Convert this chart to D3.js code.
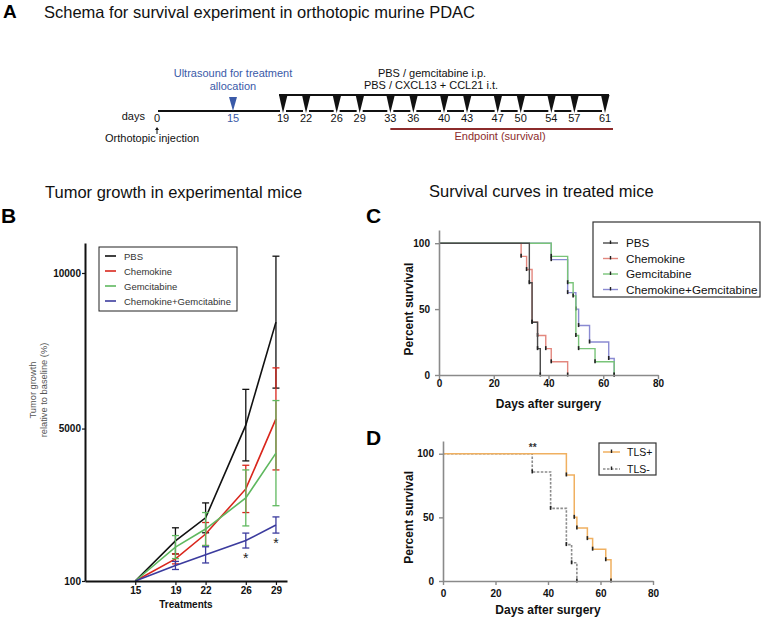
<!DOCTYPE html>
<html><head><meta charset="utf-8">
<script src="https://cdn.jsdelivr.net/npm/d3@7"></script>
<style>
body{margin:0;background:#fff}
svg{display:block}
text{font-family:"Liberation Sans",Arial,Helvetica,sans-serif}
</style>
</head><body>
<svg id="c" width="765" height="621"></svg>
<script>
// ---------------- data ----------------
const timelineDays = [0,15,19,22,26,29,33,36,40,43,47,50,54,57,61];
const treatmentDays = [19,22,26,29,33,36,40,43,47,50,54,57,61];
const allocationDay = 15;
const endpointStartDay = 33;

const growthDays = [15,19,22,26,29];
const growthNames = ["PBS","Chemokine","Gemcitabine","Chemokine+Gemcitabine"];
const pbsMean  = [100,1390,2130,5110,8420];
const pbsSem   = [0,420,480,1150,2120];
const chemMean = [100,810,1610,3060,5310];
const chemSem  = [0,160,370,760,1640];
const gemMean  = [100,1190,1770,2770,4210];
const gemSem   = [0,370,530,900,1690];
const combMean = [100,600,940,1400,1900];
const combSem  = [0,130,260,240,260];
const growthYTicks = [100,5000,10000];
const growthStarDays = [26,29];

const survNames = ["PBS","Chemokine","Gemcitabine","Chemokine+Gemcitabine"];
const survPBS  = [[0,100],[33,70],[34,40],[36,20],[37,0]];
const survChem = [[0,100],[30,90],[32,80],[34,40],[36,30],[39,20],[41,10],[47,0]];
const survGem  = [[0,100],[41,90],[47,70],[49,60],[50,30],[51,20],[57,10],[64,0]];
const survComb = [[0,100],[41,87.5],[47,62.5],[50,50],[51,37.5],[55,25],[62,12.5],[64,0]];
const tlsNames = ["TLS+","TLS-"];
const survTLSpos = [[0,100],[47,83.3],[50,50],[51,41.7],[55,33.3],[57,25],[62,16.7],[64,0]];
const survTLSneg = [[0,100],[34,85.7],[41,57.1],[47,28.6],[49,14.3],[51,0]];
const survXTicks = [0,20,40,60,80];
const survYTicks = [0,50,100];
const tlsStarDay = 34;

// ---------------- drawing ----------------
const svg = d3.select("#c");
svg.append("rect").attr("width",765).attr("height",621).attr("fill","#fff");

function T(g,x,y,s,o={}){
  const t=g.append("text").attr("x",x).attr("y",y).text(s)
   .attr("font-size",o.size||11).attr("fill",o.fill||"#111")
   .attr("font-weight",o.bold?"bold":"normal")
   .attr("text-anchor",o.anchor||"start");
  if(o.rot) t.attr("transform",`rotate(-90,${x},${y})`);
  return t;
}

// Panel letters & titles
T(svg,3,18,"A",{size:19,bold:true,fill:"#000"});
T(svg,44,18,"Schema for survival experiment in orthotopic murine PDAC",{size:16.5,fill:"#111"});
T(svg,1,223,"B",{size:21,bold:true,fill:"#000"});
T(svg,45,198,"Tumor growth in experimental mice",{size:16.5,fill:"#111"});
T(svg,366,223,"C",{size:21,bold:true,fill:"#000"});
T(svg,429,197,"Survival curves in treated mice",{size:16.5,fill:"#111"});
T(svg,366,445,"D",{size:21,bold:true,fill:"#000"});

// ---------- Panel A timeline ----------
const gA = svg.append("g");
const xT = d3.scaleLinear().domain([0,15,19,61]).range([158,233,283,605]);
const yLow = 111, yUp = 95;
gA.append("line").attr("x1",xT(0)).attr("x2",xT(19)-3).attr("y1",yLow).attr("y2",yLow)
  .attr("stroke","#111").attr("stroke-width",2);
d3.pairs(treatmentDays).forEach(([a,b])=>{
  gA.append("line").attr("x1",xT(a)+3).attr("x2",xT(b)-3).attr("y1",yLow).attr("y2",yLow)
   .attr("stroke","#111").attr("stroke-width",2);
});
gA.append("line").attr("x1",xT(19)-4).attr("x2",xT(61)+4).attr("y1",yUp).attr("y2",yUp)
  .attr("stroke","#111").attr("stroke-width",2);
treatmentDays.forEach(d=>{
  const x=xT(d);
  gA.append("path").attr("d",`M${x-4},${yUp}L${x+4.5},${yUp}L${x},${yLow+2}Z`).attr("fill","#111");
});
// allocation triangle
{const x=xT(allocationDay);
 gA.append("path").attr("d",`M${x-4},${yUp+2}L${x+4},${yUp+2}L${x},${yLow}Z`).attr("fill","#3a5aa8");}
timelineDays.forEach(d=>{
  T(gA,xT(d)-(d===0?1:0),122,String(d),{size:11,anchor:"middle",fill:d===allocationDay?"#3a5aa8":"#111"});
});
T(gA,145,120,"days",{size:11,anchor:"end"});
// injection arrow
{const x=xT(0)-1;
 gA.append("line").attr("x1",x).attr("x2",x).attr("y1",129).attr("y2",134).attr("stroke","#111").attr("stroke-width",1);
 gA.append("path").attr("d",`M${x-2},${130}L${x+2},${130}L${x},${127}Z`).attr("fill","#111");}
T(gA,105,142,"Orthotopic injection",{size:11});
T(gA,233,77,"Ultrasound for treatment",{size:11,anchor:"middle",fill:"#3a5aa8"});
T(gA,233,90,"allocation",{size:11,anchor:"middle",fill:"#3a5aa8"});
T(gA,432,77,"PBS / gemcitabine i.p.",{size:11,anchor:"middle"});
T(gA,431,89,"PBS / CXCL13 + CCL21 i.t.",{size:11,anchor:"middle"});
gA.append("line").attr("x1",xT(endpointStartDay)).attr("x2",xT(61)+8).attr("y1",129).attr("y2",129)
  .attr("stroke","#8c2b2b").attr("stroke-width",2);
T(gA,500,140,"Endpoint (survival)",{size:11,anchor:"middle",fill:"#8c2b2b"});

// ---------- Panel B ----------
const gB = svg.append("g");
const xB = d3.scaleLinear().domain([10,30.1]).range([85,287]);
const yB = d3.scaleLinear().domain([100,10964]).range([581,243]);
const gSeries = [
  {name:growthNames[0],mean:pbsMean,sem:pbsSem,color:"#111111"},
  {name:growthNames[1],mean:chemMean,sem:chemSem,color:"#d9261c"},
  {name:growthNames[2],mean:gemMean,sem:gemSem,color:"#5fb85f"},
  {name:growthNames[3],mean:combMean,sem:combSem,color:"#3b3b9e"}
];
const lineB = d3.line().x(d=>xB(d[0])).y(d=>yB(d[1]));
gSeries.forEach(s=>{
  const pts = growthDays.map((d,i)=>[d,s.mean[i]]);
  gB.append("path").attr("d",lineB(pts)).attr("fill","none").attr("stroke",s.color).attr("stroke-width",1.6);
  growthDays.forEach((d,i)=>{
    if(!s.sem[i]) return;
    const x=xB(d), y1=yB(s.mean[i]-s.sem[i]), y2=yB(s.mean[i]+s.sem[i]);
    gB.append("line").attr("x1",x).attr("x2",x).attr("y1",y1).attr("y2",y2).attr("stroke",s.color).attr("stroke-width",1.3);
    [y1,y2].forEach(y=>gB.append("line").attr("x1",x-3.5).attr("x2",x+3.5).attr("y1",y).attr("y2",y)
      .attr("stroke",s.color).attr("stroke-width",1.3));
  });
});
growthStarDays.forEach(d=>{
  const i=growthDays.indexOf(d);
  T(gB,xB(d),yB(combMean[i]-combSem[i])+15,"*",{size:14,anchor:"middle",fill:"#222"});
});
const axYB = gB.append("g").attr("transform",`translate(${xB(10)},0)`)
  .call(d3.axisLeft(yB).tickValues(growthYTicks).tickSize(3).tickSizeOuter(0).tickPadding(1).tickFormat(d3.format("d")));
const axXB = gB.append("g").attr("transform",`translate(0,${yB(100)})`)
  .call(d3.axisBottom(xB).tickValues(growthDays).tickSize(4).tickSizeOuter(0).tickPadding(2));
[axYB,axXB].forEach(a=>{
  a.select(".domain").attr("stroke","#111").attr("stroke-width",2);
  a.selectAll(".tick line").attr("stroke","#111").attr("stroke-width",1.2);
  a.selectAll("text").attr("font-size",10).attr("font-weight","bold").attr("fill","#111")
   .attr("font-family",'"Liberation Sans",Arial,sans-serif');
});
T(gB,186,608,"Treatments",{size:10,bold:true,anchor:"middle"});
T(gB,35.5,390,"Tumor growth",{size:9.3,anchor:"middle",rot:true,fill:"#555555"});
T(gB,47,390,"relative to baseline (%)",{size:9.3,anchor:"middle",rot:true,fill:"#555555"});
// legend B
gB.append("rect").attr("x",99).attr("y",247).attr("width",138).attr("height",64)
  .attr("fill","#fff").attr("stroke","#222").attr("stroke-width",1);
gSeries.forEach((s,i)=>{
  const y=256+i*15;
  gB.append("line").attr("x1",105).attr("x2",116).attr("y1",y).attr("y2",y).attr("stroke",s.color).attr("stroke-width",1.6);
  T(gB,124,y+3.5,s.name,{size:9.5,fill:"#333"});
});

// ---------- survival panels ----------
function survivalPanel(g, xS, yS, series, opt){
  const line = d3.line().x(d=>xS(d[0])).y(d=>yS(d[1])).curve(d3.curveStepAfter);
  series.forEach(s=>{
    g.append("path").attr("d",line(s.data)).attr("fill","none").attr("stroke",s.color)
      .attr("stroke-width",s.width||1.4).attr("stroke-dasharray",s.dash||null);
    s.data.slice(1).forEach(p=>{
      g.append("line").attr("x1",xS(p[0])).attr("x2",xS(p[0])).attr("y1",yS(p[1])-2.5).attr("y2",yS(p[1])+1.5)
        .attr("stroke","#222").attr("stroke-width",1.6);
    });
  });
  const ax = g.append("g").attr("transform",`translate(0,${yS(0)})`)
    .call(d3.axisBottom(xS).tickValues(survXTicks).tickSize(4).tickSizeOuter(0).tickPadding(opt.xpad));
  const ay = g.append("g").attr("transform",`translate(${xS(0)},0)`)
    .call(d3.axisLeft(yS).tickValues(survYTicks).tickSize(4).tickSizeOuter(0).tickPadding(5));
  [ax,ay].forEach(a=>{
    a.select(".domain").attr("stroke","#8a8a8a").attr("stroke-width",1.6);
    a.selectAll(".tick line").attr("stroke","#8a8a8a").attr("stroke-width",1.4);
    a.selectAll("text").attr("font-size",10).attr("font-weight","bold").attr("fill","#111")
      .attr("font-family",'"Liberation Sans",Arial,sans-serif');
  });
  T(g,opt.ylabX,(yS(0)+yS(100))/2,"Percent survival",{size:12,bold:true,anchor:"middle",rot:true});
  T(g,(xS(0)+xS(80))/2,opt.xlabY,"Days after surgery",{size:12,bold:true,anchor:"middle"});
}

// Panel C
const gC = svg.append("g");
const xC = d3.scaleLinear().domain([0,80]).range([439,658]);
const yC = d3.scaleLinear().domain([0,110]).range([375,230]);
const cSeries = [
  {name:survNames[1],data:survChem,color:"#e3877e"},
  {name:survNames[3],data:survComb,color:"#8a8ad2"},
  {name:survNames[2],data:survGem,color:"#79c479"},
  {name:survNames[0],data:survPBS,color:"#4a4a4a"}
];
survivalPanel(gC,xC,yC,cSeries,{xpad:1,ylabX:413.5,xlabY:408});
gC.append("rect").attr("x",593).attr("y",222).attr("width",167).attr("height",75)
  .attr("fill","#fff").attr("stroke","#333").attr("stroke-width",1.2);
const cLegendOrder=[3,0,2,1];
cLegendOrder.forEach((k,i)=>{
  const s=cSeries[k], y=243+i*15.5;
  gC.append("line").attr("x1",603).attr("x2",618).attr("y1",y).attr("y2",y).attr("stroke",s.color).attr("stroke-width",1.4);
  gC.append("line").attr("x1",610.5).attr("x2",610.5).attr("y1",y-2.5).attr("y2",y+1).attr("stroke","#222").attr("stroke-width",1.4);
  T(gC,626,y+4,s.name,{size:11.7,fill:"#111"});
});

// Panel D
const gD = svg.append("g");
const xD = d3.scaleLinear().domain([0,80]).range([443,653]);
const yD = d3.scaleLinear().domain([0,110]).range([581,441]);
const dSeries = [
  {name:tlsNames[1],data:survTLSneg,color:"#8c8c8c",dash:"2.5,1.5",width:1.6},
  {name:tlsNames[0],data:survTLSpos,color:"#f0b060",width:1.5}
];
survivalPanel(gD,xD,yD,dSeries,{xpad:5,ylabX:413,xlabY:613.5});
T(gD,xD(tlsStarDay)+0.5,yD(100)-2.5,"**",{size:10,bold:true,anchor:"middle",fill:"#333"});
gD.append("rect").attr("x",599).attr("y",443).attr("width",57).attr("height",32)
  .attr("fill","#fff").attr("stroke","#333").attr("stroke-width",1.2);
[dSeries[1],dSeries[0]].forEach((s,i)=>{
  const y=452+i*17;
  gD.append("line").attr("x1",603).attr("x2",620).attr("y1",y).attr("y2",y).attr("stroke",s.color)
    .attr("stroke-width",1.5).attr("stroke-dasharray",s.dash||null);
  gD.append("line").attr("x1",611.5).attr("x2",611.5).attr("y1",y-2.5).attr("y2",y+1).attr("stroke","#222").attr("stroke-width",1.4);
  T(gD,627,y+4,s.name,{size:10.5,fill:"#111"});
});
</script>
</body></html>
